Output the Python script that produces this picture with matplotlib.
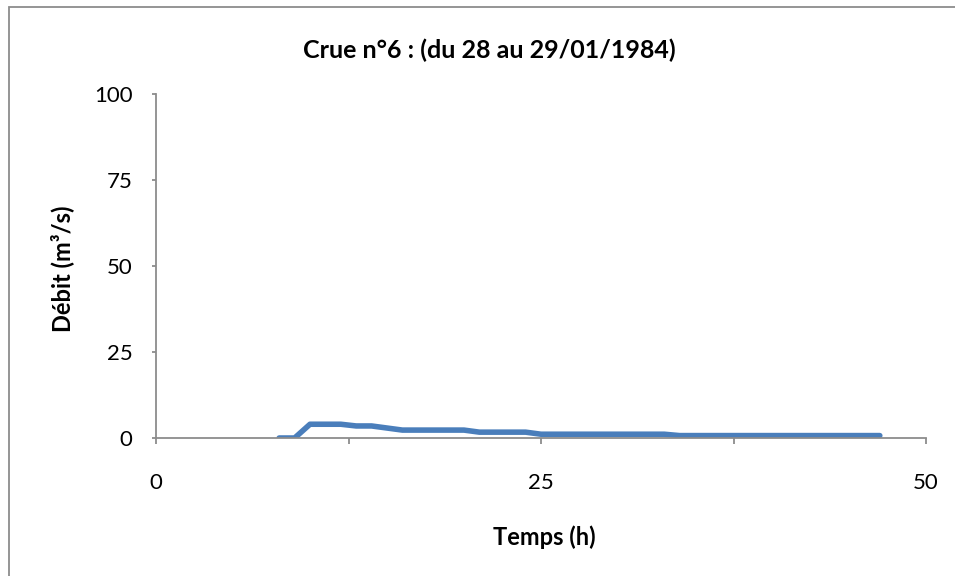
import matplotlib
matplotlib.use("Agg")
import matplotlib.pyplot as plt
from matplotlib.patches import Rectangle

plt.rcParams['font.family'] = ['Lato', 'DejaVu Sans']

heures = list(range(8, 48))
debit = [0, 0, 4.0, 4.0, 4.0, 3.5, 3.5, 2.9, 2.3, 2.3, 2.3, 2.3, 2.3,
         1.7, 1.7, 1.7, 1.7,
         1.1, 1.1, 1.1, 1.1, 1.1, 1.1, 1.1, 1.1, 1.1,
         0.7, 0.7, 0.7, 0.7, 0.7, 0.7, 0.7, 0.7, 0.7, 0.7, 0.7, 0.7, 0.7, 0.7]

x_ticks = [0, 25, 50]
x_minor = [12.5, 37.5]
y_ticks = [0, 25, 50, 75, 100]

fig = plt.figure(figsize=(9.55, 5.76), dpi=100)
ax = fig.add_axes([156 / 955, 1 - 438 / 576, 770 / 955, 344 / 576])

ax.plot(heures, debit, color='#4a7ebb', linewidth=4, solid_capstyle='round',
        solid_joinstyle='round')

ax.set_xlim(0, 50)
ax.set_ylim(0, 100)
ax.set_xticks(x_ticks)
ax.set_xticks(x_minor, minor=True)
ax.set_yticks(y_ticks)

for s in ['top', 'right']:
    ax.spines[s].set_visible(False)
for s in ['left', 'bottom']:
    ax.spines[s].set_color('#8c8c8c')
    ax.spines[s].set_linewidth(1.3)

ax.tick_params(axis='x', which='both', direction='out', length=4, width=1.3,
               color='#8c8c8c', labelsize=16, pad=21)
ax.tick_params(axis='y', direction='out', length=3, width=1.3,
               color='#8c8c8c', labelsize=16, pad=14)

fig.text(489 / 955, 1 - 50 / 576, 'Crue n°6 : (du 28 au 29/01/1984)',
         ha='center', va='center', fontsize=18, fontweight='bold')
fig.text(544 / 955, 1 - 537 / 576, 'Temps (h)', ha='center', va='center',
         fontsize=17, fontweight='bold')
fig.text(62 / 955, 1 - 269 / 576, 'Débit (m³/s)', ha='center', va='center',
         fontsize=17, fontweight='bold', rotation=90)

fig.patches.append(Rectangle((9 / 955, -0.1), 1.2, 1 - 7 / 576 + 0.1,
                             transform=fig.transFigure, fill=False,
                             edgecolor='#8c8c8c', linewidth=1.3))

fig.savefig('out.png', dpi=100)
